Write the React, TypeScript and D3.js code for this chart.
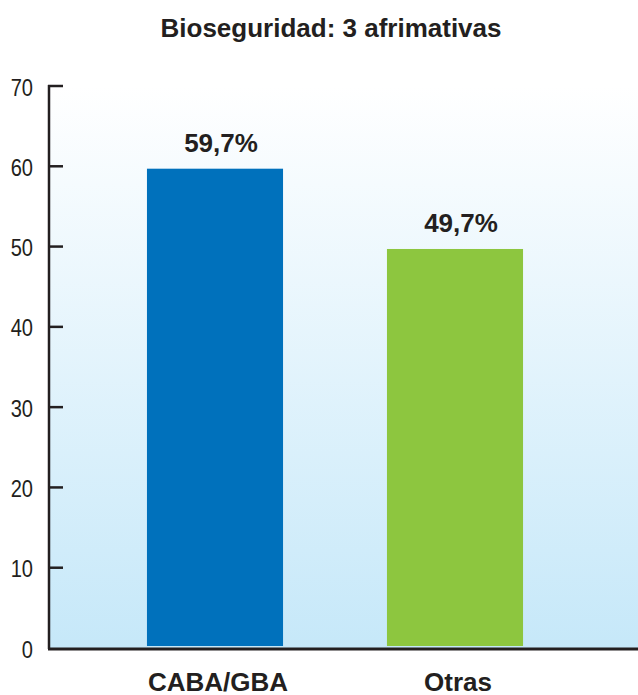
import React from "react";
import * as d3 from "d3";

const categories = ["CABA/GBA", "Otras"];
const values = [59.7, 49.7];
const valueLabels = ["59,7%", "49,7%"];
const barColors = ["#0071bc", "#8dc63f"];
const yTicks = [0, 10, 20, 30, 40, 50, 60, 70];
const title = "Bioseguridad: 3 afrimativas";

const W = 638;
const H = 695;
const FONT = "'Liberation Sans', Arial, sans-serif";

export default function App() {
  const x0 = 48;
  const y = d3.scaleLinear().domain([0, 70]).range([648, 86]);
  const x = d3
    .scaleBand<string>()
    .domain(categories)
    .range([95, 575])
    .paddingInner(0.433)
    .paddingOuter(0.2165);

  return (
    <svg
      width={W}
      height={H}
      style={{ position: "absolute", left: 0, top: 0 }}
      fontFamily={FONT}
    >
      <defs>
        <linearGradient id="bg" x1="0" y1="0" x2="0" y2="1">
          <stop offset="0%" stopColor="#ffffff" />
          <stop offset="100%" stopColor="#c6e8f9" />
        </linearGradient>
      </defs>
      <rect x={0} y={0} width={W} height={H} fill="#ffffff" />
      <rect x={x0} y={y(70)} width={W - x0} height={y(0) - y(70)} fill="url(#bg)" />
      <text
        x={331}
        y={37}
        textAnchor="middle"
        fontSize={26}
        fontWeight="bold"
        fill="#231f20"
      >
        {title}
      </text>
      {categories.map((c, i) => {
        const cx = (x(c) as number) + x.bandwidth() / 2;
        return (
          <g key={c}>
            <rect
              x={x(c)}
              y={y(values[i])}
              width={x.bandwidth()}
              height={y(0) - y(values[i]) - 2}
              fill={barColors[i]}
            />
            <text
              x={cx + 6}
              y={y(values[i]) - 17}
              textAnchor="middle"
              fontSize={26}
              fontWeight="bold"
              fill="#231f20"
            >
              {valueLabels[i]}
            </text>
            <text
              x={cx + 3}
              y={691}
              textAnchor="middle"
              fontSize={26}
              fontWeight="bold"
              fill="#231f20"
            >
              {c}
            </text>
          </g>
        );
      })}
      {yTicks.map((t) => (
        <g key={t}>
          {t > 0 && (
            <line x1={x0} x2={63} y1={y(t)} y2={y(t)} stroke="#231f20" strokeWidth={2.5} />
          )}
          <text
            transform={`translate(33,${y(t) + 9.5}) scale(0.82,1)`}
            textAnchor="end"
            fontSize={24.5}
            fill="#231f20"
          >
            {t}
          </text>
        </g>
      ))}
      <line x1={x0 + 1} x2={x0 + 1} y1={y(70) - 1} y2={y(0) + 1} stroke="#231f20" strokeWidth={2.5} />
      <line x1={x0} x2={W} y1={y(0) + 1} y2={y(0) + 1} stroke="#231f20" strokeWidth={3} />
    </svg>
  );
}
